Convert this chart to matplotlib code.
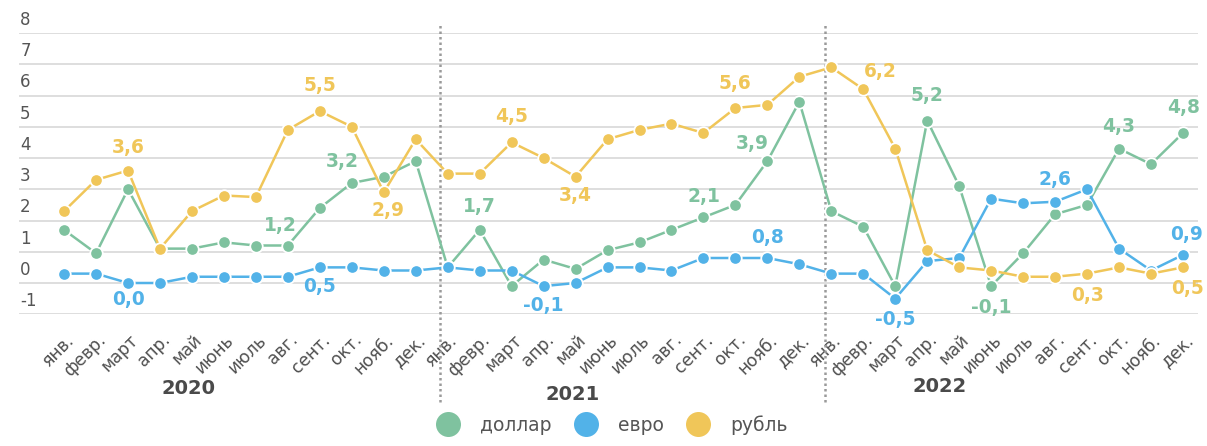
import matplotlib
matplotlib.use("Agg")
import matplotlib.pyplot as plt
from matplotlib.lines import Line2D
from matplotlib.transforms import ScaledTranslation, blended_transform_factory

# --- data -------------------------------------------------------------
months = ["янв.", "февр.", "март", "апр.", "май", "июнь",
          "июль", "авг.", "сент.", "окт.", "нояб.", "дек."]
years = ["2020", "2021", "2022"]

dollar = [1.7, 0.95, 3.0, 1.1, 1.1, 1.3, 1.2, 1.2, 2.4, 3.2, 3.4, 3.9,
          0.5, 1.7, -0.1, 0.75, 0.45, 1.05, 1.3, 1.7, 2.1, 2.5, 3.9, 5.8,
          2.3, 1.8, -0.1, 5.2, 3.1, -0.1, 0.95, 2.2, 2.5, 4.3, 3.8, 4.8]
euro = [0.3, 0.3, 0.0, 0.0, 0.2, 0.2, 0.2, 0.2, 0.5, 0.5, 0.4, 0.4,
        0.5, 0.4, 0.4, -0.1, 0.0, 0.5, 0.5, 0.4, 0.8, 0.8, 0.8, 0.6,
        0.3, 0.3, -0.5, 0.7, 0.8, 2.7, 2.55, 2.6, 3.0, 1.1, 0.4, 0.9]
ruble = [2.3, 3.3, 3.6, 1.1, 2.3, 2.8, 2.75, 4.9, 5.5, 5.0, 2.9, 4.6,
         3.5, 3.5, 4.5, 4.0, 3.4, 4.6, 4.9, 5.1, 4.8, 5.6, 5.7, 6.6,
         6.9, 6.2, 4.3, 1.05, 0.5, 0.4, 0.2, 0.2, 0.3, 0.5, 0.3, 0.5]

# which points get a value label, and the label offset (dx, dy) in pixels
dollar_labels = {7: (-7, 20), 9: (-9, 21), 13: (0, 23), 20: (0, 21), 22: (-15, 18),
                 27: (0, 25), 29: (0, -21), 33: (0, 22), 35: (1, 26)}
euro_labels = {2: (0, -17), 8: (0, -19), 15: (0, -19), 22: (0, 20), 26: (0, -21),
               31: (0, 22), 35: (4, 20)}
ruble_labels = {2: (0, 23), 8: (0, 26), 10: (4, -18), 14: (0, 26), 16: (0, -19),
                21: (0, 25), 25: (17, 18), 32: (0, -22), 35: (5, -21)}

GREEN = "#7fc29f"
BLUE = "#52b2e8"
YELLOW = "#f0c659"
GREY = "#555555"

# --- figure -----------------------------------------------------------
fig = plt.figure(figsize=(12.07, 4.46), dpi=100)
ax = fig.add_axes([19 / 1207, 1 - 314.25 / 446, 1179 / 1207, 281.25 / 446])

x = list(range(len(dollar)))
series = [(dollar, GREEN, "доллар", dollar_labels),
          (euro, BLUE, "евро", euro_labels),
          (ruble, YELLOW, "рубль", ruble_labels)]

for z, (vals, col, name, labs) in enumerate(series):
    ax.plot(x, vals, color=col, lw=1.8, marker="o", ms=9,
            markeredgecolor="white", markeredgewidth=1.3, zorder=3 + z,
            clip_on=False)
    for i, (dx, dy) in labs.items():
        txt = f"{vals[i]:.1f}".replace(".", ",")
        ax.annotate(txt, (x[i], vals[i]), xytext=(dx * 0.72, dy * 0.72),
                    textcoords="offset points", ha="center", va="center",
                    fontsize=13.4, fontweight="bold", color=col, zorder=10)

ax.set_xlim(-1.41, 35.47)
ax.set_ylim(-1, 8)
for s in ax.spines.values():
    s.set_visible(False)

# gridlines + y labels sitting above them
ax.set_yticks(range(-1, 9))
ax.yaxis.grid(True, color="#dedede", lw=1.4)
ax.tick_params(axis="y", length=0, labelleft=False)
for v in range(-1, 9):
    ax.annotate(str(v), (0.001, v), xycoords=ax.get_yaxis_transform(),
                xytext=(0, 9.5), textcoords="offset points",
                ha="left", va="center", fontsize=12, color=GREY)

# month ticks
ax.set_xticks(x)
ax.set_xticklabels(months * 3, rotation=45, ha="right", va="top",
                   rotation_mode="anchor", fontsize=12.3, color="#505050")
ax.tick_params(axis="x", length=0, pad=12)
for lbl in ax.get_xticklabels():
    lbl.set_transform(lbl.get_transform() + ScaledTranslation(1 / 100, 0, fig.dpi_scale_trans))

# year separators and year labels
sep = blended_transform_factory(ax.transData, fig.transFigure)
ax.vlines([11.77, 23.8], 1 - 402 / 446, 1 - 25 / 446, transform=sep,
          colors="#9a9a9a", lw=1.8, linestyles=(0, (1, 1.2)), clip_on=False)
for xp, yp, yr in zip([3.88, 15.9, 27.4], [388, 395, 386], years):
    ax.text(xp, 1 - yp / 446, yr, transform=sep, ha="center", va="center",
            fontsize=14, fontweight="bold", color="#4a4a4a")

# legend
handles = [Line2D([], [], ls="none", marker="o", ms=18, color=c, markeredgewidth=0)
           for _, c, _, _ in series]
fig.legend(handles, [n for _, _, n, _ in series], loc="center",
           bbox_to_anchor=(613 / 1207, 1 - 425 / 446), ncol=3, frameon=False,
           fontsize=13.5, labelcolor=GREY, handlelength=1.0,
           handletextpad=1.2, columnspacing=1.35)

fig.savefig("out.png", dpi=100)
